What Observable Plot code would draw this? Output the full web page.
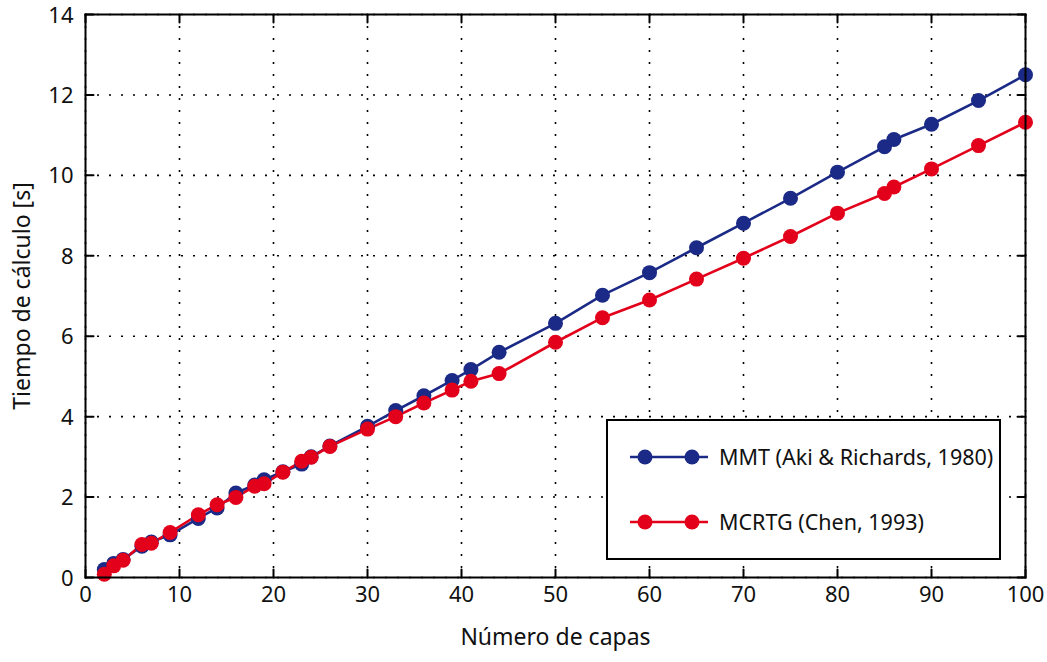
<!DOCTYPE html>
<html>
<head>
<meta charset="utf-8">
<script src="https://cdn.jsdelivr.net/npm/d3@7"></script>
<script src="https://cdn.jsdelivr.net/npm/@observablehq/plot@0.6"></script>
<style>
  body { margin: 0; background: #fff; }
  #wrap { position: relative; width: 1047px; height: 662px; font-family: "Noto Sans", sans-serif; }
  #legend { position: absolute; left: 606px; top: 419px; width: 391px; height: 137px; border: 2px solid #000; background: #fff; }
  .lrow { position: absolute; left: 20px; display: flex; align-items: center; font-size: 21.5px; color: #111; }
  .lrow svg { margin-right: 9px; }
</style>
</head>
<body>
<div id="wrap"></div>
<script>
const capas = [2,3,4,6,7,9,12,14,16,18,19,21,23,24,26,30,33,36,39,41,44,50,55,60,65,70,75,80,85,86,90,95,100];
const mmt   = [0.2,0.35,0.45,0.78,0.88,1.06,1.47,1.73,2.1,2.3,2.43,2.63,2.82,3.0,3.27,3.76,4.15,4.52,4.9,5.17,5.6,6.32,7.02,7.58,8.2,8.81,9.43,10.08,10.71,10.89,11.27,11.86,12.5];
const mcrtg = [0.08,0.29,0.43,0.82,0.85,1.12,1.56,1.81,1.99,2.27,2.33,2.62,2.89,2.99,3.26,3.69,4.0,4.34,4.66,4.88,5.07,5.85,6.46,6.9,7.42,7.94,8.48,9.06,9.55,9.71,10.16,10.74,11.32];
const seriesNames = ["MMT (Aki & Richards, 1980)", "MCRTG (Chen, 1993)"];
const seriesColors = ["#1b2a86", "#e2001a"];
const xTicks = [0,10,20,30,40,50,60,70,80,90,100];
const yTicks = [0,2,4,6,8,10,12,14];
const xLabel = "Número de capas";
const yLabel = "Tiempo de cálculo [s]";

const data = [];
capas.forEach((c, i) => {
  data.push({capas: c, t: mmt[i], s: seriesNames[0]});
});
capas.forEach((c, i) => {
  data.push({capas: c, t: mcrtg[i], s: seriesNames[1]});
});

const tickShape = { draw(context, l) { context.moveTo(0, 0); context.lineTo(0, -l); } };
const font = "Noto Sans, sans-serif";

const chart = Plot.plot({
  width: 1047,
  height: 662,
  marginLeft: 85,
  marginRight: 22,
  marginTop: 14,
  marginBottom: 85,
  style: { fontFamily: font, fontSize: "22px", color: "#111", background: "#fff" },
  x: { domain: [0, 100] },
  y: { domain: [0, 14] },
  color: { domain: seriesNames, range: seriesColors },
  marks: [
    Plot.gridX(xTicks, { stroke: "#000", strokeOpacity: 1, strokeWidth: 1.6, strokeDasharray: "2,10" }),
    Plot.gridY(yTicks, { stroke: "#000", strokeOpacity: 1, strokeWidth: 1.6, strokeDasharray: "2,10" }),
    Plot.axisX(xTicks, { tickSize: 0, tickPadding: 9, fontSize: 22, label: null, fill: "#111" }),
    Plot.axisY(yTicks, { tickSize: 0, tickPadding: 12, fontSize: 22, label: null, fill: "#111", dy: 1 }),
    Plot.vector(xTicks, { x: d => d, frameAnchor: "bottom", length: 8, rotate: 0, anchor: "start", shape: tickShape, stroke: "#000", strokeWidth: 2 }),
    Plot.vector(xTicks, { x: d => d, frameAnchor: "top", length: 8, rotate: 180, anchor: "start", shape: tickShape, stroke: "#000", strokeWidth: 2 }),
    Plot.vector(yTicks, { y: d => d, frameAnchor: "left", length: 8, rotate: 90, anchor: "start", shape: tickShape, stroke: "#000", strokeWidth: 2 }),
    Plot.vector(yTicks, { y: d => d, frameAnchor: "right", length: 8, rotate: -90, anchor: "start", shape: tickShape, stroke: "#000", strokeWidth: 2 }),
    Plot.line(data, { x: "capas", y: "t", z: "s", stroke: "s", strokeWidth: 2.6 }),
    Plot.dot(data, { x: "capas", y: "t", fill: "s", r: 7.5 }),
    Plot.frame({ stroke: "#000", strokeWidth: 2 }),
    Plot.text([xLabel], { frameAnchor: "bottom", dy: 67, textAnchor: "middle", fontSize: 23, fill: "#111" }),
    Plot.text([yLabel], { frameAnchor: "left", dx: -63, rotate: -90, textAnchor: "middle", fontSize: 23, fill: "#111" })
  ]
});

const wrap = document.getElementById("wrap");
wrap.appendChild(chart);

const legend = document.createElement("div");
legend.id = "legend";
seriesNames.forEach((name, i) => {
  const row = document.createElement("div");
  row.className = "lrow";
  row.style.top = (i === 0 ? 21 : 86) + "px";
  row.innerHTML = `<svg width="82" height="20"><line x1="2" y1="10" x2="80" y2="10" stroke="${seriesColors[i]}" stroke-width="2.6"/><circle cx="17" cy="10" r="7.5" fill="${seriesColors[i]}"/><circle cx="64" cy="10" r="7.5" fill="${seriesColors[i]}"/></svg><span>${name.replace("&", "&amp;")}</span>`;
  legend.appendChild(row);
});
wrap.appendChild(legend);
</script>
</body>
</html>
